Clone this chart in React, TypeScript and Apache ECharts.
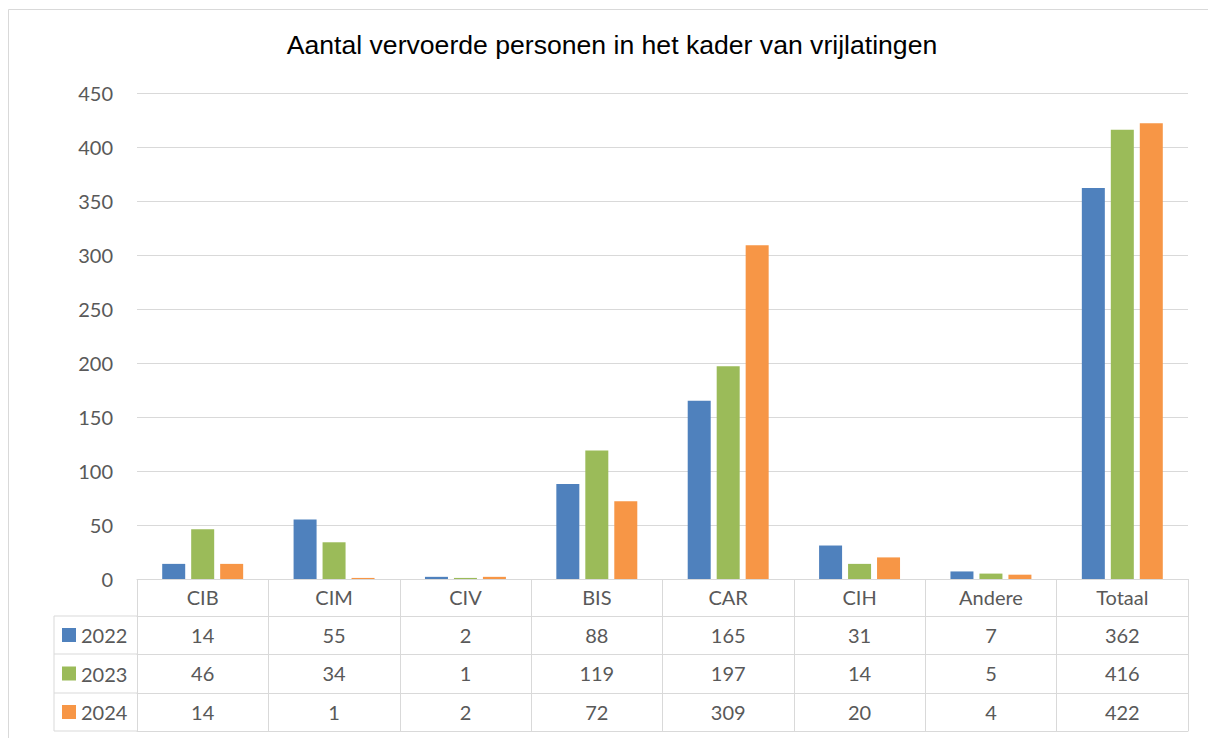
import React, { useEffect, useRef } from "react";
import * as echarts from "echarts";

const categories = ["CIB", "CIM", "CIV", "BIS", "CAR", "CIH", "Andere", "Totaal"];
const seriesNames = ["2022", "2023", "2024"];
const values2022 = [14, 55, 2, 88, 165, 31, 7, 362];
const values2023 = [46, 34, 1, 119, 197, 14, 5, 416];
const values2024 = [14, 1, 2, 72, 309, 20, 4, 422];
const colors = ["#4F81BD", "#9BBB59", "#F79646"];
const yTicks = { min: 0, max: 450, interval: 50 };

const TEXT = "#595959";
const LINE = "#d9d9d9";
const FONT = "Lato, 'Open Sans', sans-serif";

export default function App() {
  const ref = useRef<HTMLDivElement>(null);
  useEffect(() => {
    if (!ref.current) return;
    const chart = echarts.init(ref.current, null, { renderer: "svg" });
    const allValues = [values2022, values2023, values2024];
    const gridBottomY = 579;
    const rowOffsets = [37, 75, 114];
    const tableBottomOffset = 152;

    const baseAxis = {
      type: "category" as const,
      position: "bottom" as const,
      gridIndex: 0,
      boundaryGap: true,
      axisLine: { show: true, lineStyle: { color: LINE, width: 1 } },
      splitLine: { show: false },
    };

    const xAxes: any[] = [
      {
        ...baseAxis,
        data: categories,
        offset: 0,
        axisTick: { show: true, length: 37, interval: 0, lineStyle: { color: LINE } },
        axisLabel: { interval: 0, fontSize: 20, color: TEXT, fontFamily: FONT, margin: 8 },
      },
    ];
    allValues.forEach((vals, i) => {
      const next = i < 2 ? rowOffsets[i + 1] : tableBottomOffset;
      xAxes.push({
        ...baseAxis,
        data: vals.map((v) => String(v)),
        offset: rowOffsets[i],
        axisTick: { show: true, length: next - rowOffsets[i], interval: 0, lineStyle: { color: LINE } },
        axisLabel: { interval: 0, fontSize: 20, color: TEXT, fontFamily: FONT, margin: 9 },
      });
    });
    xAxes.push({
      ...baseAxis,
      data: categories.map(() => ""),
      offset: tableBottomOffset,
      axisTick: { show: false },
      axisLabel: { show: false },
    });

    const leftX = 54;
    const gridLeft = 137;
    const rowLines = [...rowOffsets, tableBottomOffset].map((o) => ({
      type: "line",
      shape: { x1: leftX, y1: gridBottomY + o, x2: gridLeft, y2: gridBottomY + o },
      style: { stroke: LINE, lineWidth: 1 },
      silent: true,
    }));

    chart.setOption({
      animation: false,
      backgroundColor: "#ffffff",
      title: {
        text: "Aantal vervoerde personen in het kader van vrijlatingen",
        left: 612,
        top: 31,
        textAlign: "center",
        padding: 0,
        textStyle: {
          fontFamily: "'Liberation Sans', Arial, sans-serif",
          fontSize: 26.6,
          fontWeight: "normal",
          color: "#000000",
        },
      },
      legend: {
        data: seriesNames,
        orient: "vertical",
        left: 62,
        top: 625,
        padding: 0,
        itemWidth: 14,
        itemHeight: 14,
        itemGap: 18.5,
        icon: "rect",
        selectedMode: false,
        textStyle: { fontSize: 20, lineHeight: 20, color: TEXT, fontFamily: FONT },
      },
      grid: { left: gridLeft, right: 20, top: 93, bottom: 738 - gridBottomY, containLabel: false },
      xAxis: xAxes,
      yAxis: {
        type: "value",
        min: yTicks.min,
        max: yTicks.max,
        interval: yTicks.interval,
        axisLine: { show: false },
        axisTick: { show: false },
        axisLabel: { fontSize: 20, color: TEXT, fontFamily: FONT, margin: 24 },
        splitLine: { show: true, lineStyle: { color: LINE, width: 1 } },
      },
      series: allValues.map((vals, i) => ({
        name: seriesNames[i],
        type: "bar",
        xAxisIndex: 0,
        data: vals,
        barWidth: 23,
        barGap: "26%",
        itemStyle: { color: colors[i] },
      })),
      graphic: [
        {
          type: "rect",
          shape: { x: 8.5, y: 9.5, width: 1400, height: 900 },
          style: { fill: "none", stroke: LINE, lineWidth: 1 },
          silent: true,
          z: -10,
        },
        ...rowLines,
        {
          type: "line",
          shape: { x1: leftX, y1: gridBottomY + rowOffsets[0], x2: leftX, y2: gridBottomY + tableBottomOffset },
          style: { stroke: LINE, lineWidth: 1 },
          silent: true,
        },
      ],
    });
    return () => chart.dispose();
  }, []);
  return (
    <div
      ref={ref}
      style={{ position: "fixed", left: 0, top: 0, width: 1208, height: 738, background: "#fff" }}
    />
  );
}
